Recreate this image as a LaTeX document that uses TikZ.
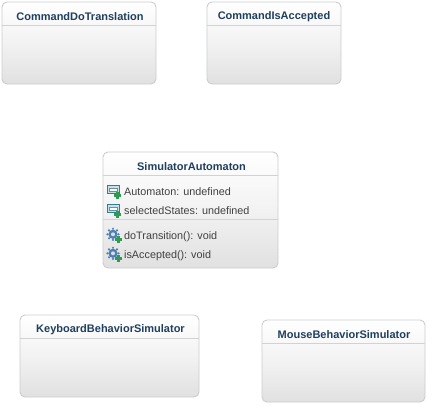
\documentclass[tikz,border=0pt]{standalone}
\usepackage{fontspec}
\setmainfont{Liberation Sans}
\usetikzlibrary{calc}
\definecolor{bordc}{HTML}{C9CDD0}
\definecolor{titlec}{HTML}{1F3F5F}
\definecolor{sepc}{HTML}{D0D2D4}
\definecolor{iconb}{HTML}{2F7F96}
\definecolor{gearb}{HTML}{4F7FB0}
\definecolor{plusg}{HTML}{2E9A52}
\tikzset{
  x=1pt,y=-1pt,
  umlbox/.style={draw=bordc,line width=0.9pt,rounded corners=5pt,inner sep=0pt,
    top color=white,bottom color=white!88!black,middle color=white!95!black},
  umltitle/.style={font=\bfseries\fontsize{11}{13}\selectfont,text=titlec,inner sep=0pt,anchor=center},
  umlitem/.style={font=\fontsize{10.8}{13}\selectfont,text=black!75,inner sep=0pt,anchor=base west},
  umlsep/.style={draw=sepc,line width=0.9pt},
  fieldicon/.pic={
    \draw[iconb,line width=1pt,fill=iconb!25] (-7,-5.5) rectangle (5,2.5);
    \draw[iconb!80,line width=0.8pt,fill=white] (-4.5,-3) rectangle (3,0.5);
    \fill[plusg] (2,0.7) rectangle (5,7.7);
    \fill[plusg] (0,2.7) rectangle (7,5.7);
  },
  methodicon/.pic={
    \foreach \a in {0,45,...,315}{\fill[gearb] (-1,-0.7) ++(\a:5.6) circle (1.2);}
    \fill[gearb] (-1,-0.7) circle (4.6);
    \fill[white!75!gearb] (-1,-0.7) circle (2);
    \fill[plusg] (2.5,1.2) rectangle (5.5,8.2);
    \fill[plusg] (0.5,3.2) rectangle (7.5,6.2);
  }
}
\begin{document}
\begin{tikzpicture}
\useasboundingbox (0,0) rectangle (436,413);
\fill[white] (0,0) rectangle (436,413);
% boxes
\node[umlbox,minimum width=154pt,minimum height=82pt] (cdt) at (79,43) {};
\node[umlbox,minimum width=134pt,minimum height=82pt] (cia) at (274,43) {};
\node[umlbox,minimum width=175pt,minimum height=116pt] (sa) at (190.5,210) {};
\node[umlbox,minimum width=179pt,minimum height=82pt] (kbs) at (109.5,356) {};
\node[umlbox,minimum width=163pt,minimum height=82pt] (mbs) at (343.5,361) {};
% header rules
\draw[umlsep] ($(cdt.north west)+(0,24)$) -- ($(cdt.north east)+(0,24)$);
\draw[umlsep] ($(cia.north west)+(0,24)$) -- ($(cia.north east)+(0,24)$);
\draw[umlsep] ($(sa.north west)+(0,24)$) -- ($(sa.north east)+(0,24)$);
\draw[umlsep] ($(sa.north west)+(0,68)$) -- ($(sa.north east)+(0,68)$);
\draw[umlsep] ($(kbs.north west)+(0,24)$) -- ($(kbs.north east)+(0,24)$);
\draw[umlsep] ($(mbs.north west)+(0,24)$) -- ($(mbs.north east)+(0,24)$);
% titles
\node[umltitle] (t1) at (80,16.5) {CommandDoTranslation};
\node[umltitle] (t2) at (274,16.5) {CommandIsAccepted};
\node[umltitle] (t3) at (191.5,166.5) {SimulatorAutomaton};
\node[umltitle] (t4) at (110.5,329.5) {KeyboardBehaviorSimulator};
\node[umltitle] (t5) at (344,334.5) {MouseBehaviorSimulator};
% icons and items
\pic at (114,191) {fieldicon};
\pic at (114,210) {fieldicon};
\pic at (114,235) {methodicon};
\pic at (114,254) {methodicon};
\node[umlitem] (i1) at (124,195) {Automaton: undefined};
\node[umlitem] (i2) at (124,214) {selectedStates: undefined};
\node[umlitem] (i3) at (124,239) {doTransition(): void};
\node[umlitem] (i4) at (124,258) {isAccepted(): void};
\end{tikzpicture}
\end{document}
